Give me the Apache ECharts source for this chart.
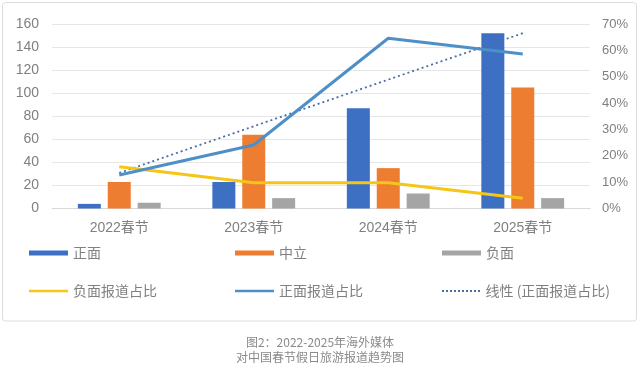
<!DOCTYPE html>
<html>
<head>
<meta charset="utf-8">
<script src="https://cdn.jsdelivr.net/npm/echarts@6/dist/echarts.min.js"></script>
<style>
html,body{margin:0;padding:0;background:#fff;}
#c{width:640px;height:372px;}
</style>
</head>
<body>
<div id="c"></div>
<script>
const categories = ['2022春节', '2023春节', '2024春节', '2025春节'];
const positive = [4, 23, 87, 152];
const neutral = [23, 64, 35, 105];
const negative = [5, 9, 13, 9];
const negativeShare = [0.158, 0.098, 0.098, 0.039];
const positiveShare = [0.127, 0.241, 0.646, 0.586];
const positiveTrend = [0.135, 0.312, 0.489, 0.665];
const leftTicks = { min: 0, max: 160, interval: 20 };
const rightTicks = { min: 0, max: 0.7, interval: 0.1 };
const captionLines = ['图2：2022-2025年海外媒体', '对中国春节假日旅游报道趋势图'];

const names = ['正面', '中立', '负面', '负面报道占比', '正面报道占比', '线性 (正面报道占比)'];
const FONT = '"Liberation Sans", "Noto Sans CJK SC", sans-serif';
const CJK = '"Noto Sans CJK SC", "Liberation Sans", sans-serif';
const textGray = '#808080';

// dotted legend icon path (10 small dots)
let dotPath = 'path://';
for (let i = 0; i < 10; i++) {
  const x = i * 4;
  dotPath += 'M' + x + ',0h2v2h-2z';
}

const chart = echarts.init(document.getElementById('c'), null, { renderer: 'canvas' });

function mkLegend(name, left, top, icon, h) {
  return {
    data: [name],
    left: left,
    top: top,
    padding: 0,
    itemWidth: 39,
    itemHeight: h,
    itemGap: 0,
    icon: icon,
    selectedMode: false,
    textStyle: { fontFamily: CJK, fontSize: 14, color: textGray }
  };
}

const option = {
  animation: false,
  backgroundColor: '#ffffff',
  graphic: [
    {
      type: 'rect',
      shape: { x: 2.5, y: 2.5, width: 634, height: 318.5, r: 3 },
      style: { fill: 'none', stroke: '#dcdcdc', lineWidth: 1 },
      silent: true
    },
    {
      type: 'text',
      left: 'center',
      top: 336,
      style: { text: captionLines[0], font: '12px "Noto Sans CJK SC"', fill: '#8a8a8a', textAlign: 'center' },
      silent: true
    },
    {
      type: 'text',
      left: 'center',
      top: 351,
      style: { text: captionLines[1], font: '12px "Noto Sans CJK SC"', fill: '#8a8a8a', textAlign: 'center' },
      silent: true
    }
  ],
  legend: [
    mkLegend(names[0], 29, 246, 'rect', 5),
    mkLegend(names[1], 235, 246, 'rect', 5),
    mkLegend(names[2], 442, 246, 'rect', 5),
    mkLegend(names[3], 29, 284, 'rect', 2.5),
    mkLegend(names[4], 235, 284, 'rect', 2.5),
    mkLegend(names[5], 442, 284, dotPath, 2)
  ],
  grid: { left: 52, right: 50, top: 24, bottom: 163.5, containLabel: false },
  xAxis: {
    type: 'category',
    data: categories,
    axisTick: { show: false },
    axisLine: { lineStyle: { color: '#d9d9d9', width: 1 } },
    axisLabel: { fontFamily: FONT, fontSize: 14, color: textGray, margin: 13 }
  },
  yAxis: [
    {
      type: 'value',
      min: leftTicks.min, max: leftTicks.max, interval: leftTicks.interval,
      axisLine: { show: false },
      axisTick: { show: false },
      splitLine: { lineStyle: { color: '#e6e6e6', width: 1 } },
      axisLabel: { fontFamily: FONT, fontSize: 14, color: textGray, margin: 13 }
    },
    {
      type: 'value',
      min: rightTicks.min, max: rightTicks.max, interval: rightTicks.interval,
      axisLine: { show: false },
      axisTick: { show: false },
      splitLine: { show: false },
      axisLabel: {
        fontFamily: FONT, fontSize: 13, color: textGray, margin: 12,
        formatter: v => Math.round(v * 100) + '%'
      }
    }
  ],
  series: [
    { name: names[0], type: 'bar', data: positive, barWidth: 23, barGap: '30%', itemStyle: { color: '#3d6fc3' } },
    { name: names[1], type: 'bar', data: neutral, barWidth: 23, barGap: '30%', itemStyle: { color: '#ed7d31' } },
    { name: names[2], type: 'bar', data: negative, barWidth: 23, barGap: '30%', itemStyle: { color: '#a5a5a5' } },
    { name: names[3], type: 'line', yAxisIndex: 1, data: negativeShare, symbol: 'none', lineStyle: { color: '#f5c518', width: 3 }, itemStyle: { color: '#f5c518' }, z: 5 },
    { name: names[4], type: 'line', yAxisIndex: 1, data: positiveShare, symbol: 'none', lineStyle: { color: '#4f8fc8', width: 3 }, itemStyle: { color: '#4f8fc8' }, z: 5 },
    { name: names[5], type: 'line', yAxisIndex: 1, data: positiveTrend, symbol: 'none', lineStyle: { color: '#4a6fa8', width: 1.8, type: [2, 3] }, itemStyle: { color: '#4a6fa8' }, z: 4 }
  ]
};
chart.setOption(option);
</script>
</body>
</html>
